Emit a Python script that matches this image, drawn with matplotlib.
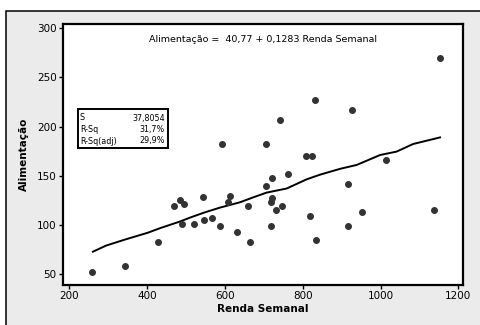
import matplotlib
matplotlib.use("Agg")
import matplotlib.pyplot as plt
from matplotlib.patches import Rectangle

# weekly income vs food spending
renda = [258, 343, 428, 468, 484, 495, 490, 520, 544, 546,
         567, 587, 592, 608, 613, 632, 659, 664, 706, 706,
         721, 721, 718, 718, 731, 742, 747, 762, 808, 824,
         819, 832, 834, 916, 916, 927, 952, 1014, 1137, 1153]
alimentacao = [52.4, 58.5, 83, 119.5, 125.6, 121.6, 101.2, 101, 128.7, 105,
               107, 99.2, 182.6, 123.6, 129.7, 93, 118.9, 83, 140, 182.6,
               148, 127.7, 123.6, 99, 115.5, 207, 119.5, 152, 170.4, 170.4,
               109.4, 227.4, 85, 142, 99, 217, 113.4, 166.4, 115.5, 270]

# fitted curve as drawn in the picture
fit_x = [261, 294, 343, 402, 436, 484, 510, 546, 587, 639, 673, 707,
         759, 810, 844, 896, 939, 999, 1041, 1084, 1153]
fit_y = [72.7, 78.8, 85, 92, 97, 103.3, 107.3, 112.4, 117.5, 123, 128, 132.8,
         137, 146.3, 151, 157, 161, 171.1, 174.5, 182.3, 189]

stat_names = ["S", "R-Sq", "R-Sq(adj)"]
stat_values = ["37,8054", "31,7%", "29,9%"]

fig = plt.figure(figsize=(4.8, 3.25), dpi=100)
fig.patch.set_facecolor("white")
fig.patches.append(Rectangle((6 / 480, -0.1), 1.2, (325 - 11) / 325 + 0.1,
                             transform=fig.transFigure, facecolor="#ebebeb",
                             edgecolor="black", linewidth=1.1, zorder=-5))

ax = fig.add_axes([63 / 480, 40 / 325, 400 / 480, 261 / 325])
ax.set_facecolor("white")
ax.scatter(renda, alimentacao, s=16, color="#333333", zorder=3)
ax.plot(fit_x, fit_y, color="black", linewidth=1.4, zorder=2)

ax.set_xlim(184, 1212)
ax.set_ylim(38.8, 304.4)
ax.set_xticks([200, 400, 600, 800, 1000, 1200])
ax.set_yticks([50, 100, 150, 200, 250, 300])
ax.tick_params(direction="out", length=3, width=1, labelsize=7.5, pad=1.5)
for sp in ax.spines.values():
    sp.set_linewidth(1.6)

ax.set_xlabel("Renda Semanal", fontsize=7.5, fontweight="bold", labelpad=2)
ax.set_ylabel("Alimentação", fontsize=7.5, fontweight="bold", labelpad=6)

ax.text(0.5, 0.94, "Alimentação =  40,77 + 0,1283 Renda Semanal",
        transform=ax.transAxes, ha="center", va="center", fontsize=6.8)

# stats box
ax.add_patch(Rectangle((15 / 400, (285 - 148) / 261), 90 / 400, 39 / 261,
                       transform=ax.transAxes, facecolor="white",
                       edgecolor="black", linewidth=1.4, zorder=4))
for i, (n, v) in enumerate(zip(stat_names, stat_values)):
    yy = (285 - 118 - i * 11.5) / 261
    ax.text(17 / 400, yy, n, transform=ax.transAxes, ha="left", va="center",
            fontsize=5.8, zorder=5)
    ax.text(102 / 400, yy, v, transform=ax.transAxes, ha="right", va="center",
            fontsize=5.8, zorder=5)

fig.savefig("out.png", dpi=100)
